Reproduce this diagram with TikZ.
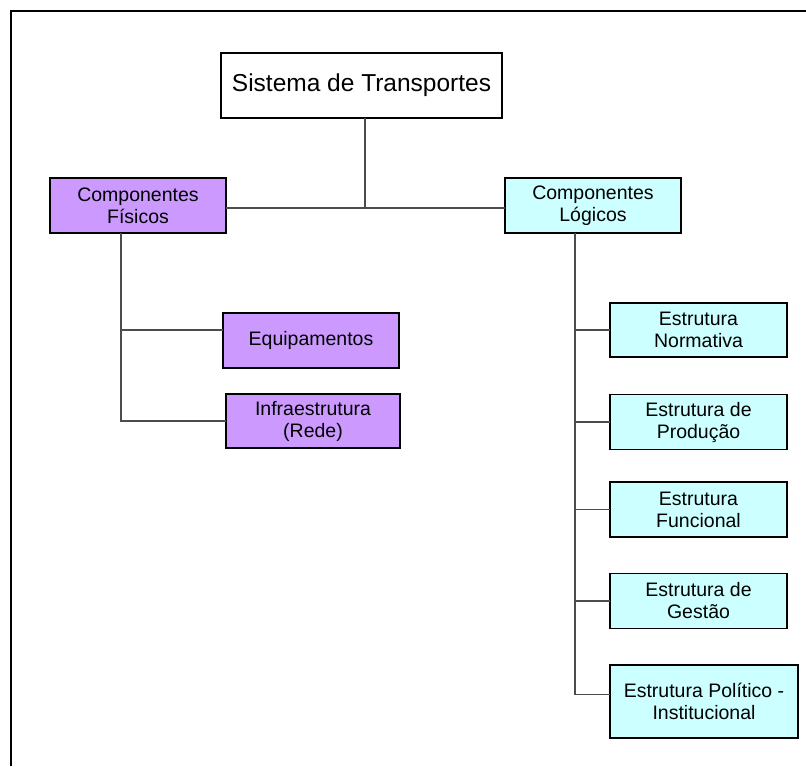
\documentclass[tikz,border=0pt]{standalone}
\usepackage{fontspec}
\setmainfont{Liberation Sans}
\usetikzlibrary{calc}
\definecolor{lilas}{HTML}{CC99FF}
\definecolor{ciano}{HTML}{CCFFFF}
\tikzset{%
  inner sep=0pt,%
  outer sep=0pt,%
  caixa/.style={draw=black,line width=1.6pt,align=center,
    font=\fontsize{19.5}{22}\selectfont},%
  fisico/.style={caixa,fill=lilas,minimum height=55pt},%
  logico/.style={caixa,fill=ciano,minimum width=177pt,minimum height=55pt},%
  ligacao/.style={draw=black!70,line width=1.3pt}%
}
\begin{document}
\begin{tikzpicture}[x=1pt,y=-1pt]

%definitions
\def\xF{121} % vertical line, physical side
\def\xL{575} % vertical line, logical side
\def\yB{208} % main horizontal line
\useasboundingbox (0,0) rectangle (806,766);
\draw[line width=2pt] (11,766) -- (11,11) -- (806,11);

\node[caixa,fill=white,minimum width=281pt,minimum height=65pt,
  font=\fontsize{24.5}{28}\selectfont] (sistema) at (361.5,85.5) {Sistema de Transportes};
\node[fisico,minimum width=176pt] (fisicos) at (138,205.5) {Componentes\\Físicos};
\node[logico,minimum width=176pt] (logicos) at (593,205.5) {Componentes\\Lógicos};
\node[fisico,minimum width=176pt] (equip) at (311,340.5) {Equipamentos};
\node[fisico,minimum width=174pt,minimum height=54pt] (infra) at (313,421) {Infraestrutura\\(Rede)};
\node[logico,minimum height=54pt] (normativa) at (698.5,330) {Estrutura\\Normativa};
\node[logico] (producao) at (698.5,422) {Estrutura de\\Produção};
\node[logico] (funcional) at (698.5,509.5) {Estrutura\\Funcional};
\node[logico] (gestao) at (698.5,601) {Estrutura de\\Gestão};
\node[logico,minimum width=188pt,minimum height=73pt] (politico) at (704,701.5) {Estrutura Político -\\Institucional};

%links
\coordinate (tronco) at (365,\yB);
\coordinate (eixoF) at (\xF,0);
\coordinate (eixoL) at (\xL,0);
\coordinate (rEquip) at ($(equip.west)+(0,-10.5)$);
\coordinate (rPolitico) at ($(politico.west)+(0,-7)$);
\draw[ligacao] (sistema.south -| tronco) -- (tronco);
\draw[ligacao] (fisicos.east |- tronco) -- (logicos.west |- tronco);
\draw[ligacao] (fisicos.south -| eixoF) |- (infra.west);
\draw[ligacao] (eixoF |- rEquip) -- (rEquip);
\draw[ligacao] (logicos.south -| eixoL) |- (rPolitico);
\foreach \n in {normativa,producao,funcional,gestao}
  \draw[ligacao] (eixoL |- \n.west) -- (\n.west);

\end{tikzpicture}
\end{document}
